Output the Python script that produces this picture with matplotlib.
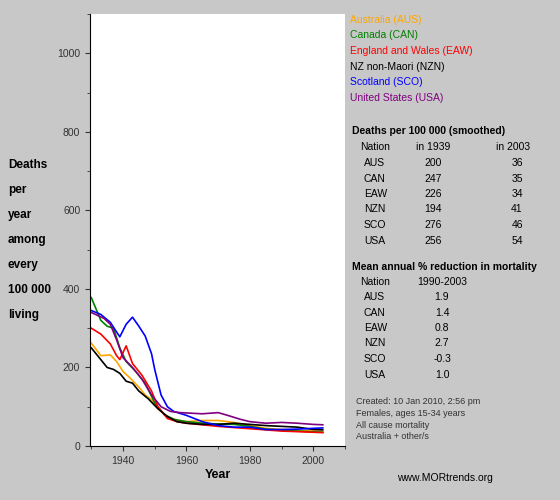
import matplotlib.pyplot as plt

plt.rcParams['font.family'] = ['Liberation Sans', 'DejaVu Sans']

aus_x = [1930, 1933, 1936, 1938, 1940, 1942, 1945, 1947, 1949, 1951, 1954, 1957, 1960, 1965, 1970, 1975, 1980, 1985, 1990, 2000, 2003]
aus_y = [262, 230, 232, 215, 190, 175, 150, 130, 118, 95, 75, 65, 62, 65, 65, 60, 52, 45, 42, 38, 36]
can_x = [1930, 1933, 1935, 1937, 1939, 1941, 1944, 1947, 1950, 1953, 1956, 1960, 1965, 1970, 1975, 1980, 1985, 1990, 1995, 2000, 2003]
can_y = [378, 320, 305, 300, 250, 215, 190, 160, 110, 80, 68, 62, 58, 56, 55, 50, 43, 40, 38, 36, 35]
eaw_x = [1930, 1933, 1936, 1938, 1939, 1941, 1943, 1946, 1949, 1951, 1954, 1957, 1960, 1970, 1980, 1990, 2000, 2003]
eaw_y = [300, 285, 260, 230, 220, 255, 210, 180, 140, 100, 70, 62, 58, 50, 44, 38, 35, 34]
nzn_x = [1930, 1932, 1935, 1937, 1939, 1941, 1943, 1945, 1948, 1951, 1954, 1957, 1960, 1965, 1970, 1975, 1980, 1985, 1990, 1995, 2000, 2003]
nzn_y = [250, 230, 200, 195, 185, 165, 160, 140, 120, 95, 75, 62, 58, 55, 55, 58, 55, 52, 50, 48, 42, 41]
sco_x = [1930, 1933, 1936, 1938, 1939, 1941, 1943, 1945, 1947, 1949, 1950, 1952, 1954, 1956, 1960, 1965, 1970, 1975, 1980, 1985, 1990, 1995, 2000, 2003]
sco_y = [345, 335, 315, 290, 278, 310, 328, 305, 280, 235, 195, 130, 100, 88, 78, 62, 52, 48, 48, 42, 42, 43, 45, 46]
usa_x = [1930, 1934, 1936, 1938, 1940, 1943, 1946, 1949, 1952, 1955, 1958, 1965, 1970, 1973, 1977, 1980, 1985, 1990, 1995, 2000, 2003]
usa_y = [340, 325, 310, 270, 225, 200, 170, 130, 100, 88, 85, 82, 85, 78, 68, 62, 58, 60, 58, 55, 54]

names = ['Australia (AUS)', 'Canada (CAN)', 'England and Wales (EAW)',
         'NZ non-Maori (NZN)', 'Scotland (SCO)', 'United States (USA)']
colors = ['orange', 'green', 'red', 'black', 'blue', 'purple']
codes = ['AUS', 'CAN', 'EAW', 'NZN', 'SCO', 'USA']
rate_1939 = [200, 247, 226, 194, 276, 256]
rate_2003 = [36, 35, 34, 41, 46, 54]
reduction = ['1.9', '1.4', '0.8', '2.7', '-0.3', '1.0']

bg = '#c8c8c8'
fs = 7.5
fig = plt.figure(figsize=(5.6, 5.0), dpi=100, facecolor=bg)
ax = fig.add_axes([90/560, 54/500, 255/560, 432/500])
series = [(aus_x, aus_y), (can_x, can_y), (eaw_x, eaw_y), (nzn_x, nzn_y), (sco_x, sco_y), (usa_x, usa_y)]
for (x, y), c in zip(series, colors):
    ax.plot(x, y, color=c, lw=1.2)

ax.set_xlim(1929.6, 2010)
ax.set_ylim(0, 1100)
ax.set_xticks([1940, 1960, 1980, 2000])
ax.set_xticks([1930, 1950, 1970, 1990, 2010], minor=True)
ax.set_yticks([0, 200, 400, 600, 800, 1000])
ax.set_yticks([100, 300, 500, 700, 900, 1100], minor=True)
for s in ['top', 'right']:
    ax.spines[s].set_visible(False)
ax.tick_params(labelsize=fs, colors='#333333', which='both', direction='out')
ax.set_xlabel('Year', fontsize=9, fontweight='bold', labelpad=2)

ylab = ['Deaths', 'per', 'year', 'among', 'every', '100 000', 'living']
for i, t in enumerate(ylab):
    fig.text(8/560, 1 - (165 + i * 25) / 500, t, fontsize=8.5, fontweight='bold', va='center')

for i, (n, c) in enumerate(zip(names, colors)):
    fig.text(350/560, 1 - (20 + i * 15.5) / 500, n, color=c, fontsize=fs, va='center')

fig.text(352/560, 1 - 131/500, 'Deaths per 100 000 (smoothed)', fontsize=fs, fontweight='bold', va='center')
fig.text(360/560, 1 - 147/500, 'Nation', fontsize=fs, va='center')
fig.text(433/560, 1 - 147/500, 'in 1939', fontsize=fs, va='center', ha='center')
fig.text(513/560, 1 - 147/500, 'in 2003', fontsize=fs, va='center', ha='center')
for i in range(6):
    y = 1 - (163 + i * 15.5) / 500
    fig.text(364/560, y, codes[i], fontsize=fs, va='center')
    fig.text(433/560, y, str(rate_1939[i]), fontsize=fs, va='center', ha='center')
    fig.text(517/560, y, str(rate_2003[i]), fontsize=fs, va='center', ha='center')

fig.text(352/560, 1 - 267/500, 'Mean annual % reduction in mortality', fontsize=fs, fontweight='bold', va='center')
fig.text(360/560, 1 - 282/500, 'Nation', fontsize=fs, va='center')
fig.text(442/560, 1 - 282/500, '1990-2003', fontsize=fs, va='center', ha='center')
for i in range(6):
    y = 1 - (297 + i * 15.5) / 500
    fig.text(364/560, y, codes[i], fontsize=fs, va='center')
    fig.text(442/560, y, reduction[i], fontsize=fs, va='center', ha='center')

notes = ['Created: 10 Jan 2010, 2:56 pm', 'Females, ages 15-34 years',
         'All cause mortality', 'Australia + other/s']
for i, t in enumerate(notes):
    fig.text(356/560, 1 - (402 + i * 11.5) / 500, t, fontsize=6.5, va='center', color='#333333')
fig.text(397/560, 1 - 478/500, 'www.MORtrends.org', fontsize=fs, va='center')

fig.savefig('out.png', dpi=100, facecolor=bg)
